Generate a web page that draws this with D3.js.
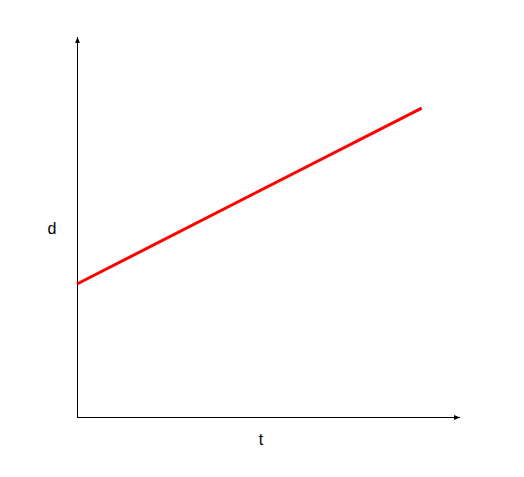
<!DOCTYPE html>
<html>
<head>
<meta charset="utf-8">
<script src="https://cdn.jsdelivr.net/npm/d3@7"></script>
<style>
html,body{margin:0;padding:0;background:#fff;}
svg{display:block;}
</style>
</head>
<body>
<svg id="chart" width="524" height="477"></svg>
<script>
const tValues = [0, 9];
const dValues = [3.5, 8.13];
const xLabel = "t";
const yLabel = "d";

const svg = d3.select("#chart");
const x = d3.scaleLinear().domain([0, 10]).range([77, 460]);
const y = d3.scaleLinear().domain([0, 10]).range([417, 37]);

const defs = svg.append("defs");
defs.append("marker").attr("id", "arrow")
  .attr("viewBox", "0 0 10 10").attr("refX", 10).attr("refY", 5)
  .attr("markerWidth", 6).attr("markerHeight", 6)
  .attr("markerUnits", "userSpaceOnUse")
  .attr("orient", "auto")
  .append("path").attr("d", "M0,1 L10,5 L0,9 Z").attr("fill", "#000");

svg.append("line")
  .attr("x1", x(0)).attr("y1", y(0) + 0.5).attr("x2", x(10)).attr("y2", y(0) + 0.5)
  .attr("stroke", "#000").attr("stroke-width", 1).attr("marker-end", "url(#arrow)");
svg.append("line")
  .attr("x1", x(0) + 0.5).attr("y1", y(0)).attr("x2", x(0) + 0.5).attr("y2", y(10))
  .attr("stroke", "#000").attr("stroke-width", 1).attr("marker-end", "url(#arrow)");

const data = tValues.map((t, i) => ({t, d: dValues[i]}));
svg.append("path").datum(data)
  .attr("d", d3.line().x(p => x(p.t)).y(p => y(p.d)))
  .attr("fill", "none").attr("stroke", "#ff0000").attr("stroke-width", 3);

svg.append("text").attr("x", 261).attr("y", 445).attr("text-anchor", "middle")
  .attr("font-family", "Liberation Sans, Arial, sans-serif").attr("font-size", 16).text(xLabel);
svg.append("text").attr("x", 52).attr("y", 234).attr("text-anchor", "middle")
  .attr("font-family", "Liberation Sans, Arial, sans-serif").attr("font-size", 16).text(yLabel);
</script>
</body>
</html>
